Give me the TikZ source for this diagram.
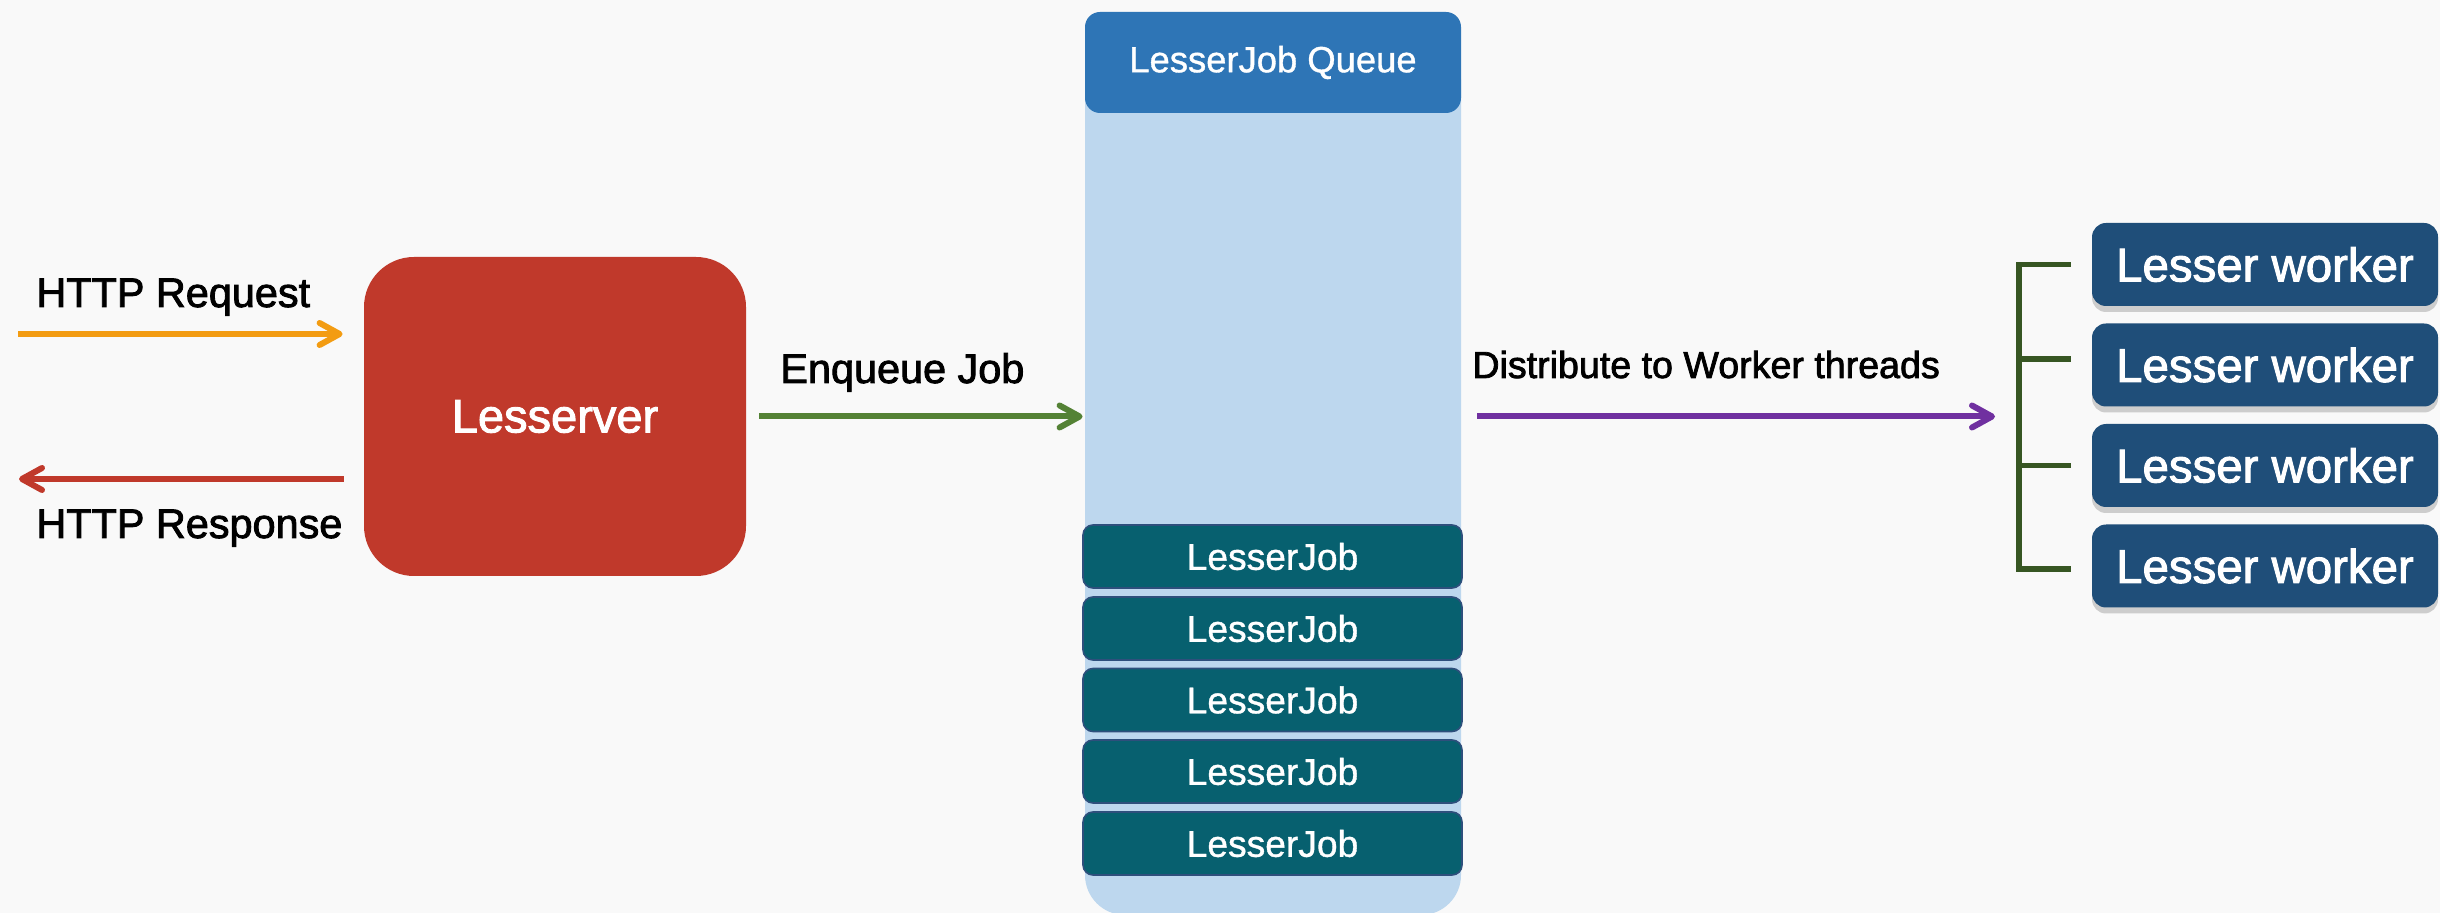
\documentclass[tikz,border=0pt]{standalone}
\usepackage{fontspec}
\setmainfont{Liberation Sans}
\newfontfamily\medfont{Liberation Sans}[FakeBold=2]
\newfontfamily\regfont{Liberation Sans}[FakeBold=1]
\usetikzlibrary{arrows.meta,shadows,calc}
\definecolor{bgc}{HTML}{F9F9F9}
\definecolor{reqc}{HTML}{F39C12}
\definecolor{srvc}{HTML}{C0392B}
\definecolor{enqc}{HTML}{548235}
\definecolor{distc}{HTML}{7030A0}
\definecolor{brc}{HTML}{375623}
\definecolor{colc}{HTML}{BDD7EE}
\definecolor{headc}{HTML}{2E75B6}
\definecolor{jobc}{HTML}{07606F}
\definecolor{jobb}{HTML}{2E4F7C}
\definecolor{workc}{HTML}{1F4E79}
\begin{document}
\begin{tikzpicture}[x=0.5pt,y=-0.5pt,
  conn/.style={line width=3pt, -{Straight Barb[length=10pt,width=11pt,round]}},
  lbl/.style={inner sep=0pt, anchor=base west, text=black, font=\medfont\fontsize{20.7pt}{24pt}\selectfont},
  srvbox/.style={fill=srvc, rounded corners=25pt, minimum width=191pt, minimum height=159.5pt, inner sep=0pt, text=white, font=\medfont\fontsize{23.5pt}{28pt}\selectfont},
  colbox/.style={fill=colc, rounded corners=20pt, minimum width=188pt, minimum height=437.5pt, inner sep=0pt},
  headbox/.style={fill=headc, rounded corners=7.5pt, minimum width=188pt, minimum height=50.5pt, inner sep=0pt, text=white, font=\regfont\fontsize{18.2pt}{22pt}\selectfont},
  jobbox/.style={fill=jobc, draw=jobb, line width=0.8pt, rounded corners=5pt, minimum width=189.5pt, minimum height=31.5pt, inner sep=0pt, text=white, font=\regfont\fontsize{18.6pt}{22pt}\selectfont},
  workbox/.style={fill=workc, rounded corners=7pt, minimum width=173pt, minimum height=41.5pt, inner sep=0pt, text=white, font=\medfont\fontsize{23.7pt}{28pt}\selectfont, drop shadow={shadow xshift=0pt, shadow yshift=-3pt, opacity=0.25, fill=black!70}},
  brk/.style={brc, line width=2.8pt}
]
\fill[bgc] (0,0) rectangle (2440,913);
\useasboundingbox (0,0) rectangle (2440,913);

% server
\node[srvbox] (srv) at (555,416.5) {Lesserver};

% queue column
\node[colbox] (queue) at (1273,477.5) {};
\node[headbox] (qhead) at (1273,62.5) {LesserJob Queue};
\node[jobbox] (j1) at (1272.5,556.5) {LesserJob};
\node[jobbox] (j2) at (1272.5,628.5) {LesserJob};
\node[jobbox] (j3) at (1272.5,700) {LesserJob};
\node[jobbox] (j4) at (1272.5,771.5) {LesserJob};
\node[jobbox] (j5) at (1272.5,843.5) {LesserJob};

% workers
\node[workbox] (w1) at (2265,264.5) {Lesser worker};
\node[workbox] (w2) at (2265,365) {Lesser worker};
\node[workbox] (w3) at (2265,465.5) {Lesser worker};
\node[workbox] (w4) at (2265,566) {Lesser worker};

% labels
\node[lbl] (reqlbl) at (36,307) {HTTP Request};
\node[lbl] (resplbl) at (36,538) {HTTP Response};
\node[lbl] (enqlbl) at (780,383) {Enqueue Job};
\node[lbl, font=\medfont\fontsize{18.8pt}{22pt}\selectfont] (distlbl) at (1472,378) {Distribute to Worker threads};

% free ends
\coordinate (reqs) at (18,334);
\coordinate (resp) at (19,479);
\coordinate (bk) at (2019,416.5);

% connectors
\draw[conn, reqc, shorten >=10.5pt] (reqs) -- (reqs -| srv.west);
\draw[conn, srvc, shorten <=10pt] (resp -| srv.west) -- (resp);
\draw[conn, enqc, shorten <=6.5pt, shorten >=1pt] (srv.east) -- (srv.east -| queue.west);
\draw[conn, distc, shorten <=8pt, shorten >=12pt] (srv.east -| queue.east) -- (bk);

% bracket
\coordinate (t1) at ([xshift=-10.5pt]w1.west);
\coordinate (t2) at ([xshift=-10.5pt,yshift=3pt]w2.west);
\coordinate (t3) at ([xshift=-10.5pt]w3.west);
\coordinate (t4) at ([xshift=-10.5pt,yshift=-1.5pt]w4.west);
\draw[brk] (t1) -- (bk |- t1) -- (bk |- t4) -- (t4);
\draw[brk] (bk |- t2) -- (t2);
\draw[brk] (bk |- t3) -- (t3);
\end{tikzpicture}
\end{document}
